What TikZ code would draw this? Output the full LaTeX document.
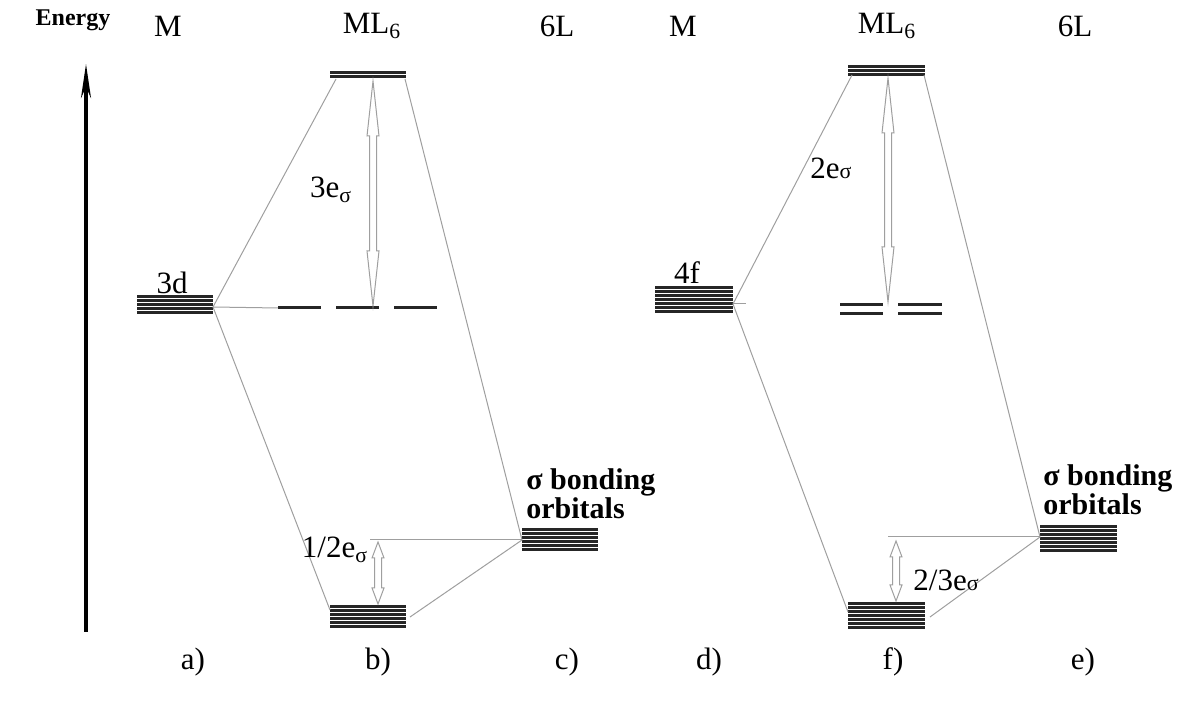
\documentclass[tikz,border=0pt]{standalone}
\usepackage{fontspec}
\setmainfont{Liberation Serif}
\usetikzlibrary{positioning, arrows.meta}

\tikzset{
  orb/.style={line width=1.5pt, black!85},
  link/.style={gray!75, line width=0.5pt},
  gaparrow/.style={draw=gray!75, fill=white, line width=0.5pt},
  lbl/.style={font=\fontsize{15.5}{17}\selectfont, inner sep=0pt},
  bondlbl/.style={font=\fontsize{15}{14.5}\selectfont\bfseries, inner sep=0pt, align=left, anchor=south west},
}

% n degenerate levels from x1 to x2, first one at ytop, 4px apart
\newcommand{\orbstack}[4]{%
  \foreach \k in {1,...,#4}
    \draw[orb] (#1,{#3+4*(\k-1)}) -- (#2,{#3+4*(\k-1)});
}
% hollow double arrow: x, ytop, ybottom, head length
\newcommand{\splitarrow}[4]{%
  \draw[gaparrow] (#1,#2) -- (#1+6,#2+#4) -- (#1+3.5,#2+#4) -- (#1+3.5,#3-#4)
    -- (#1+6,#3-#4) -- (#1,#3) -- (#1-6,#3-#4) -- (#1-3.5,#3-#4)
    -- (#1-3.5,#2+#4) -- (#1-6,#2+#4) -- cycle;
}

\begin{document}
\begin{tikzpicture}[x=0.5pt, y=-0.5pt]
  \useasboundingbox (0,0) rectangle (1177,704);

  % energy axis
  \coordinate (e0) at (86,632);
  \coordinate (e1) at (86,64);
  \draw[line width=1.8pt, -{Stealth[length=17pt, width=5pt]}] (e0) -- (e1);
  \node[font=\fontsize{12}{14}\selectfont\bfseries, inner sep=0pt] (energy) at (73,20) {Energy};

  % column heads
  \node[lbl] (m1) at (168,26) {M};
  \node[lbl] (ml1) at (372,26) {ML\textsubscript{6}};
  \node[lbl] (l1) at (557,26) {6L};
  \node[lbl] (m2) at (683,26) {M};
  \node[lbl] (ml2) at (887,26) {ML\textsubscript{6}};
  \node[lbl] (l2) at (1075,26) {6L};

  % --- 3d metal ---
  \orbstack{137}{213}{297}{5}
  \node[lbl] (d3lbl) at (172,283) {3d};
  \foreach \xa/\xb in {278/321, 336/379, 394/437}
    \draw[orb] (\xa,308) -- (\xb,308);
  \orbstack{330}{406}{73}{2}
  \orbstack{330}{406}{607}{6}
  \orbstack{522}{598}{530}{6}
  \node[bondlbl] (sb1) at (526,519) {σ bonding\\orbitals};

  \coordinate (d3) at (213,307);
  \coordinate (eg1) at (336,79);
  \coordinate (eg1r) at (405,79);
  \coordinate (t2g1) at (278,308);
  \coordinate (bo1) at (330,610);
  \coordinate (bo1r) at (410,617);
  \coordinate (sig1) at (522,540);
  \coordinate (ref1) at (370,540);
  \draw[link] (eg1) -- (d3) -- (bo1);
  \draw[link] (d3) -- (t2g1);
  \draw[link] (eg1r) -- (sig1) -- (bo1r);
  \draw[link] (sig1) -- (ref1);

  \splitarrow{373}{81}{306}{55}
  \node[lbl] (de1) at (331,190) {3e\textsubscript{σ}};
  \splitarrow{378}{542}{604}{16}
  \node[lbl] (sp1) at (335,550) {1/2e\textsubscript{σ}};

  % --- 4f metal ---
  \orbstack{655}{733}{288}{7}
  \node[lbl] (f4lbl) at (687,273) {4f};
  \foreach \xa/\xb in {840/883, 898/942}
    \foreach \yy in {305,314}
      \draw[orb] (\xa,\yy) -- (\xb,\yy);
  \orbstack{848}{925}{67}{3}
  \orbstack{848}{925}{604}{7}
  \orbstack{1040}{1117}{527}{7}
  \node[bondlbl] (sb2) at (1043,515) {σ bonding\\orbitals};

  \coordinate (f4) at (733,304);
  \coordinate (eg2) at (852,75);
  \coordinate (eg2r) at (924,75);
  \coordinate (nb2) at (746,304);
  \coordinate (bo2) at (848,612);
  \coordinate (bo2r) at (930,617);
  \coordinate (sig2) at (1040,537);
  \coordinate (ref2) at (888,537);
  \draw[link] (eg2) -- (f4) -- (bo2);
  \draw[link] (f4) -- (nb2);
  \draw[link] (eg2r) -- (sig2) -- (bo2r);
  \draw[link] (sig2) -- (ref2);

  \splitarrow{888}{78}{302}{55}
  \node[lbl] (de2) at (831,168) {2e{\fontsize{11}{11}\selectfont σ}};
  \splitarrow{896}{541}{601}{16}
  \node[lbl] (sp2) at (946,580) {2/3e{\fontsize{11}{11}\selectfont σ}};

  % panel letters
  \foreach \x/\t in {193/a, 378/b, 567/c, 709/d, 893/f, 1083/e}
    \node[lbl] (p\t) at (\x,662) {\t)};
\end{tikzpicture}
\end{document}
